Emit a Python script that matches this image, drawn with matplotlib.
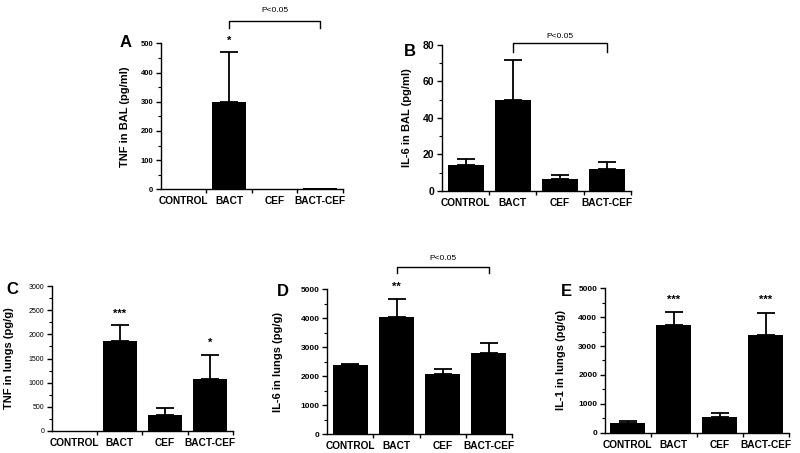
import matplotlib
matplotlib.use('Agg')
import matplotlib.pyplot as plt
from matplotlib.ticker import MultipleLocator, FixedLocator, NullFormatter

plt.rcParams['font.family'] = ['Liberation Sans', 'DejaVu Sans']

# 데이터
categories = ['CONTROL', 'BACT', 'CEF', 'BACT-CEF']

tnf_bal = [0, 300, 0, 5]
tnf_bal_err = [0, 170, 0, 0]

il6_bal = [14, 50, 6.5, 12]
il6_bal_err = [3.5, 22, 2, 3.5]

tnf_lung = [0, 1870, 340, 1070]
tnf_lung_err = [0, 330, 140, 500]

il6_lung = [2370, 4060, 2090, 2790]
il6_lung_err = [50, 610, 170, 370]

il1_lung = [340, 3720, 560, 3390]
il1_lung_err = [70, 450, 120, 740]

fig = plt.figure(figsize=(8, 4.53), dpi=100)

# 패널 설정: 위치, 데이터, 축 범위, 라벨
panels = [
    dict(letter='A', rect=[0.201, 0.582, 0.2275, 0.3223], vals=tnf_bal, err=tnf_bal_err,
         ymax=500, major=100, minor=50, ylabel='TNF in BAL (pg/ml)', tick_fs=5.5, tick_bold=True,
         stars={1: ('*', 521)}, bracket=(577, 552, 611), letter_xy=(0.157, 0.906), label_x=-0.17),
    dict(letter='B', rect=[0.5525, 0.579, 0.236, 0.3216], vals=il6_bal, err=il6_bal_err,
         ymax=80, major=20, minor=10, ylabel='IL-6 in BAL (pg/ml)', tick_fs=7.5, tick_bold=True,
         stars={}, bracket=(80.9, 76, 84.6), letter_xy=(0.5125, 0.886), label_x=-0.16),
    dict(letter='C', rect=[0.065, 0.0486, 0.226, 0.32], vals=tnf_lung, err=tnf_lung_err,
         ymax=3000, major=500, minor=250, ylabel='TNF in lungs (pg/g)', tick_fs=5, tick_bold=False,
         stars={1: ('***', 2489), 3: ('*', 1903)}, bracket=None, letter_xy=(0.016, 0.36), label_x=-0.21),
    dict(letter='D', rect=[0.409, 0.0419, 0.231, 0.3194], vals=il6_lung, err=il6_lung_err,
         ymax=5000, major=1000, minor=500, ylabel='IL-6 in lungs (pg/g)', tick_fs=6, tick_bold=True,
         stars={1: ('**', 5218)}, bracket=(5781, 5553, 6081), letter_xy=(0.353, 0.356), label_x=-0.24),
    dict(letter='E', rect=[0.756, 0.0448, 0.23, 0.3188], vals=il1_lung, err=il1_lung_err,
         ymax=5000, major=1000, minor=500, ylabel='IL-1 in lungs (pg/g)', tick_fs=6, tick_bold=True,
         stars={1: ('***', 4709), 3: ('***', 4709)}, bracket=None, letter_xy=(0.708, 0.356), label_x=-0.21),
]

x = list(range(len(categories)))

for p in panels:
    ax = fig.add_axes(p['rect'])
    ax.bar(x, p['vals'], width=0.76, color='black', zorder=2)

    # 위쪽 오차 막대만 표시 (0인 것은 생략)
    ex = [i for i in x if p['err'][i] > 0]
    ax.errorbar(ex, [p['vals'][i] for i in ex],
                yerr=[[0] * len(ex), [p['err'][i] for i in ex]],
                fmt='none', ecolor='black', elinewidth=1.3, capsize=6.5, capthick=1.3, zorder=3)

    ax.set_xlim(-0.5, 3.5)
    ax.set_ylim(0, p['ymax'])
    for s in ['top', 'right']:
        ax.spines[s].set_visible(False)
    for s in ['left', 'bottom']:
        ax.spines[s].set_linewidth(1.0)

    # x축: 경계에 눈금, 가운데에 라벨
    ax.xaxis.set_major_locator(FixedLocator([0.5, 1.5, 2.5, 3.5]))
    ax.xaxis.set_major_formatter(NullFormatter())
    ax.xaxis.set_minor_locator(FixedLocator(x))
    ax.set_xticklabels(categories, minor=True, fontsize=7.3, fontweight='bold')
    ax.tick_params(axis='x', which='major', direction='out', length=3, width=1)
    ax.tick_params(axis='x', which='minor', length=0, pad=5)

    ax.yaxis.set_major_locator(MultipleLocator(p['major']))
    ax.yaxis.set_minor_locator(MultipleLocator(p['minor']))
    ax.tick_params(axis='y', which='major', direction='out', length=3.5, width=1,
                   labelsize=p['tick_fs'], pad=2)
    ax.tick_params(axis='y', which='minor', direction='out', length=2, width=0.8)
    for lbl in ax.get_yticklabels():
        lbl.set_fontweight('bold' if p['tick_bold'] else 'normal')

    ax.set_ylabel(p['ylabel'], fontsize=8, fontweight='bold')
    ax.yaxis.set_label_coords(p['label_x'], 0.5)

    for i, (s, yv) in p['stars'].items():
        ax.annotate(s, xy=(i, yv), xytext=(0, -4.6), textcoords='offset points',
                    ha='center', va='baseline', fontsize=8, fontweight='bold',
                    annotation_clip=False)

    if p['bracket'] is not None:
        yb, ye, yt = p['bracket']
        ax.plot([1, 1, 3, 3], [ye, yb, yb, ye], color='black', lw=1.0, clip_on=False)
        ax.text(2, yt, 'P<0.05', ha='center', va='center', fontsize=6)

    fig.text(p['letter_xy'][0], p['letter_xy'][1], p['letter'], fontsize=12,
             fontweight='bold', ha='center', va='center')

fig.savefig('out.png', dpi=100)
